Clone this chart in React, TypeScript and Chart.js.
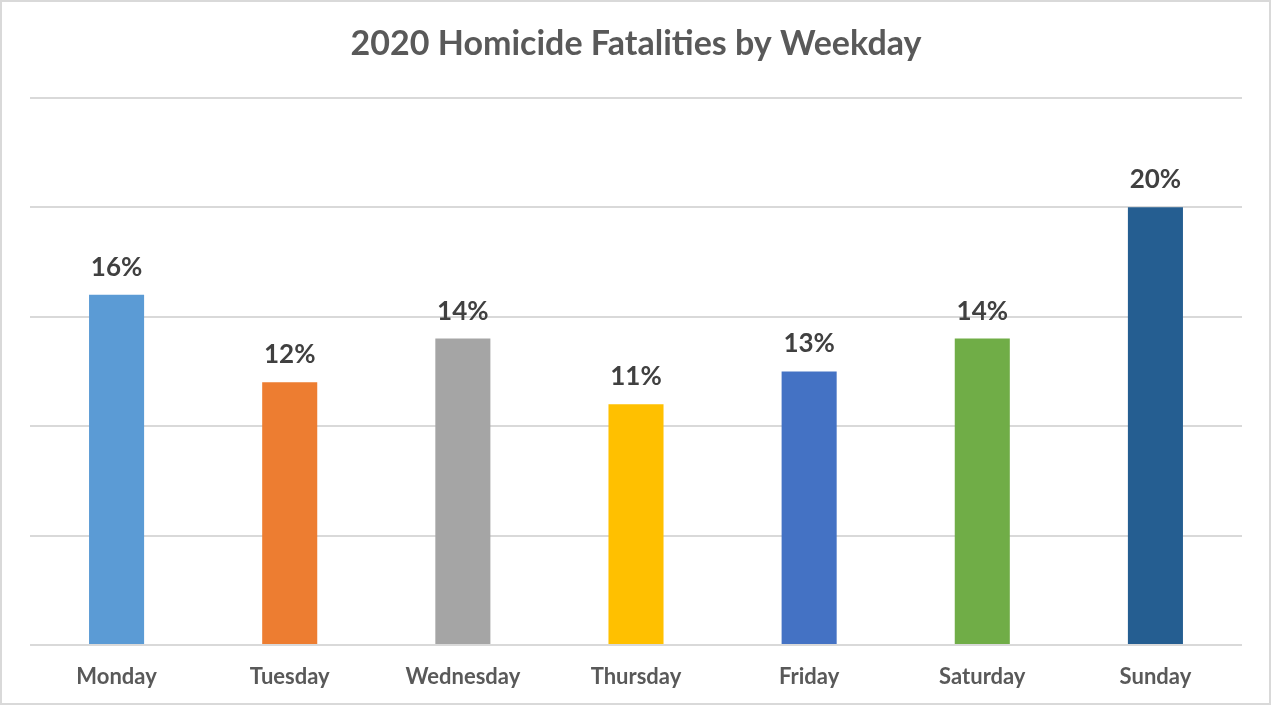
import React, { useEffect, useRef } from "react";
import { Chart, registerables } from "chart.js";

Chart.register(...registerables);

const TITLE = "2020 Homicide Fatalities by Weekday";
const categories = ["Monday", "Tuesday", "Wednesday", "Thursday", "Friday", "Saturday", "Sunday"];
const values = [16, 12, 14, 11, 12.5, 14, 20];
const barColors = ["#5B9BD5", "#ED7D31", "#A5A5A5", "#FFC000", "#4472C4", "#70AD47", "#255E91"];
const yTicks = [0, 5, 10, 15, 20, 25];

const FONT = "Lato, 'Open Sans', sans-serif";

const dataLabelPlugin = {
  id: "dataLabels",
  afterDatasetsDraw(chart: any) {
    const ctx = chart.ctx;
    const meta = chart.getDatasetMeta(0);
    ctx.save();
    ctx.font = `bold 26px ${FONT}`;
    ctx.fillStyle = "#404040";
    ctx.textAlign = "center";
    ctx.textBaseline = "alphabetic";
    meta.data.forEach((bar: any, i: number) => {
      ctx.fillText(`${Math.round(values[i])}%`, bar.x, bar.y - 19);
    });
    ctx.restore();
  },
};

const borderPlugin = {
  id: "outerBorder",
  afterDraw(chart: any) {
    const ctx = chart.ctx;
    ctx.save();
    ctx.strokeStyle = "#d9d9d9";
    ctx.lineWidth = 2;
    ctx.strokeRect(1, 1, chart.width - 3, chart.height - 3);
    ctx.restore();
  },
};

export default function App() {
  const ref = useRef<HTMLCanvasElement | null>(null);
  useEffect(() => {
    document.body.style.margin = "0";
    const chart = new Chart(ref.current!, {
      type: "bar",
      data: {
        labels: categories,
        datasets: [
          {
            data: values,
            backgroundColor: barColors,
            barPercentage: 0.318,
            categoryPercentage: 1,
          },
        ],
      },
      options: {
        responsive: false,
        animation: false,
        layout: { padding: { left: 30, right: 30, top: 10, bottom: -3 } },
        plugins: {
          legend: { display: false },
          tooltip: { enabled: false },
          title: {
            display: true,
            text: TITLE,
            color: "#595959",
            font: { family: FONT, size: 34, weight: "bold" },
            padding: { top: 14, bottom: 33 },
          },
        },
        scales: {
          x: {
            grid: { display: false, drawTicks: false },
            border: { display: false },
            ticks: {
              color: "#595959",
              font: { family: FONT, size: 22, weight: "bold", lineHeight: 1 },
              padding: 21,
            },
          },
          y: {
            min: 0,
            max: 25,
            afterBuildTicks: (axis: any) => {
              axis.ticks = yTicks.map((v) => ({ value: v }));
            },
            grid: { color: "#d9d9d9", lineWidth: 2, drawTicks: false },
            border: { display: false },
            ticks: { display: false },
          },
        },
      },
      plugins: [dataLabelPlugin, borderPlugin],
    });
    return () => chart.destroy();
  }, []);
  return (
    <div style={{ position: "absolute", left: 0, top: 0, width: 1272, height: 706, background: "#fff" }}>
      <canvas ref={ref} width={1272} height={706} style={{ display: "block" }} />
    </div>
  );
}
